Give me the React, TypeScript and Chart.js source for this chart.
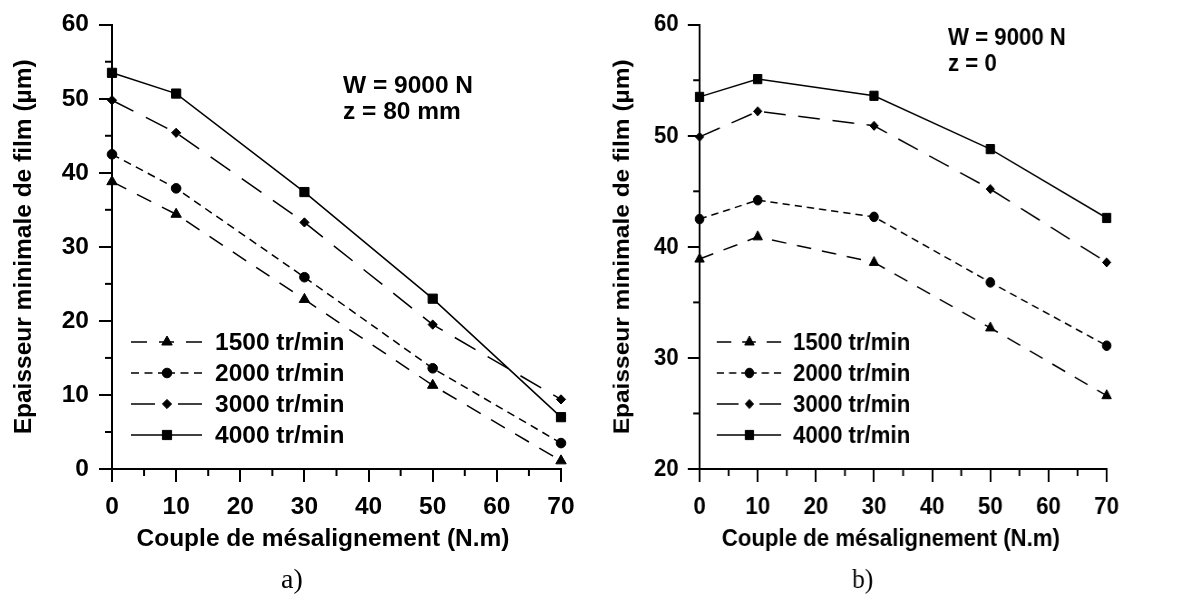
import React, { useEffect, useRef } from 'react';
import { Chart, registerables } from 'chart.js';

Chart.register(...registerables);

// ---------- data ----------
const torques = [0, 10, 30, 50, 70];
const seriesLabels = ['1500 tr/min', '2000 tr/min', '3000 tr/min', '4000 tr/min'];

// panel a) W = 9000 N, z = 80 mm
const a1500 = [38.8, 34.4, 22.9, 11.3, 1.1];
const a2000 = [42.5, 37.9, 25.9, 13.6, 3.5];
const a3000 = [49.8, 45.4, 33.3, 19.5, 9.4];
const a4000 = [53.5, 50.7, 37.4, 23.0, 7.0];

// panel b) W = 9000 N, z = 0
const b1500 = [38.9, 40.9, 38.6, 32.7, 26.6];
const b2000 = [42.5, 44.2, 42.7, 36.8, 31.1];
const b3000 = [49.9, 52.2, 50.9, 45.2, 38.6];
const b4000 = [53.5, 55.1, 53.6, 48.8, 42.6];

const xTicks = [0, 10, 20, 30, 40, 50, 60, 70];
const yTicksA = [0, 10, 20, 30, 40, 50, 60];
const yTicksB = [20, 30, 40, 50, 60];

const xTitle = 'Couple de mésalignement (N.m)';
const yTitle = 'Epaisseur minimale de film (µm)';
const notesA = ['W = 9000 N', 'z = 80 mm'];
const notesB = ['W = 9000 N', 'z = 0'];

// ---------- styles ----------
const SANS = '"Liberation Sans", Arial, Helvetica, sans-serif';
const SERIF = '"Liberation Serif", "Times New Roman", serif';
const FS = 24.5;
const DASHES: number[][] = [[16, 12], [8, 5.5], [24, 14], []];
const MARKERS = ['triangle', 'circle', 'rectRot', 'rect'];
const RADII = [6, 4.8, 4.6, 6.5];

function drawMarker(ctx: CanvasRenderingContext2D, style: string, x: number, y: number, r: number) {
  ctx.beginPath();
  if (style === 'circle') {
    ctx.arc(x, y, r, 0, Math.PI * 2);
  } else if (style === 'triangle') {
    ctx.moveTo(x, y - r);
    ctx.lineTo(x + r * Math.sin((2 * Math.PI) / 3), y - r * Math.cos((2 * Math.PI) / 3));
    ctx.lineTo(x + r * Math.sin((4 * Math.PI) / 3), y - r * Math.cos((4 * Math.PI) / 3));
    ctx.closePath();
  } else if (style === 'rectRot') {
    ctx.moveTo(x, y - r);
    ctx.lineTo(x + r, y);
    ctx.lineTo(x, y + r);
    ctx.lineTo(x - r, y);
    ctx.closePath();
  } else {
    const s = Math.SQRT1_2 * r;
    ctx.rect(x - s, y - s, 2 * s, 2 * s);
  }
  ctx.fill();
  ctx.lineWidth = 1;
  ctx.stroke();
}

const decorPlugin = {
  id: 'decor',
  afterDraw(chart: any, _args: any, opts: any) {
    const ctx: CanvasRenderingContext2D = chart.ctx;
    const { left, top, bottom } = chart.chartArea;
    const xs = chart.scales.x;
    const ys = chart.scales.y;
    ctx.save();
    ctx.strokeStyle = '#000';
    ctx.fillStyle = '#000';
    ctx.lineWidth = 2;
    ctx.setLineDash([]);
    // minor ticks
    for (let v = xs.min + 5; v < xs.max; v += 10) {
      const px = xs.getPixelForValue(v);
      ctx.beginPath();
      ctx.moveTo(px, bottom);
      ctx.lineTo(px, bottom + 7);
      ctx.stroke();
    }
    for (let v = ys.min + 5; v < ys.max; v += 10) {
      const py = ys.getPixelForValue(v);
      ctx.beginPath();
      ctx.moveTo(left, py);
      ctx.lineTo(left - 7, py);
      ctx.stroke();
    }

    // axis titles
    ctx.font = `bold ${FS}px ${SANS}`;
    ctx.textAlign = 'center';
    ctx.textBaseline = 'alphabetic';
    ctx.fillText(xTitle, opts.xTitleX, opts.xTitleY);
    ctx.save();
    ctx.translate(opts.yTitleX, (top + bottom) / 2);
    ctx.rotate(-Math.PI / 2);
    ctx.textBaseline = 'middle';
    ctx.fillText(yTitle, 0, 0);
    ctx.restore();

    // notes
    ctx.textAlign = 'left';
    ctx.textBaseline = 'alphabetic';
    opts.notes.forEach((t: string, i: number) => {
      ctx.fillText(t, opts.noteX, opts.noteY[i]);
    });

    // legend
    const lg = opts.legend;
    chart.data.datasets.forEach((ds: any, i: number) => {
      const y = lg.rows[i];
      ctx.lineWidth = 1.5;
      ctx.setLineDash(ds.borderDash || []);
      ctx.beginPath();
      ctx.moveTo(lg.x1, y);
      ctx.lineTo(lg.xm, y);
      ctx.stroke();
      ctx.beginPath();
      ctx.moveTo(lg.x2, y);
      ctx.lineTo(lg.xm, y);
      ctx.stroke();
      ctx.setLineDash([]);
      drawMarker(ctx, ds.pointStyle, lg.xm, y, ds.pointRadius);
      ctx.font = `bold ${FS}px ${SANS}`;
      ctx.textAlign = 'left';
      ctx.textBaseline = 'middle';
      ctx.fillText(ds.label, lg.tx, y + 1);
    });

    // sub label
    ctx.font = `28px ${SERIF}`;
    ctx.textAlign = 'center';
    ctx.textBaseline = 'alphabetic';
    ctx.fillText(opts.tag, opts.tagX, opts.tagY);
    ctx.restore();
  },
};

type PanelProps = {
  series: number[][];
  yMin: number;
  yMax: number;
  yTicks: number[];
  notes: string[];
  noteX: number;
  noteY: number[];
  tag: string;
  yTitleX: number;
  left: number;
  cssWidth: number;
};

function Panel(p: PanelProps) {
  const ref = useRef<HTMLCanvasElement | null>(null);
  useEffect(() => {
    if (!ref.current) return;
    const tickFont = { family: SANS, size: FS, weight: 'bold' as const };
    const chart = new Chart(ref.current, {
      type: 'line',
      data: {
        datasets: p.series.map((vals, i) => ({
          label: seriesLabels[i],
          data: torques.map((t, j) => ({ x: t, y: vals[j] })),
          borderColor: '#000',
          backgroundColor: '#000',
          borderWidth: 1.5,
          borderDash: DASHES[i],
          pointStyle: MARKERS[i] as any,
          pointRadius: RADII[i],
          pointBackgroundColor: '#000',
          pointBorderColor: '#000',
          pointBorderWidth: 1,
          tension: 0,
          clip: false as any,
        })),
      },
      options: {
        animation: false,
        responsive: false,
        devicePixelRatio: 1,
        events: [],
        layout: { padding: { left: 0, right: 39, top: 19, bottom: 0 } },
        plugins: {
          legend: { display: false },
          tooltip: { enabled: false },
          decor: {
            notes: p.notes,
            noteX: p.noteX,
            noteY: p.noteY,
            xTitleX: 323,
            xTitleY: 546,
            yTitleX: p.yTitleX,
            tag: p.tag,
            tagX: 292,
            tagY: 588,
            legend: { x1: 131, x2: 202, xm: 167, tx: 215, rows: [342, 373, 404, 435] },
          },
        } as any,
        scales: {
          x: {
            type: 'linear',
            min: 0,
            max: 70,
            afterBuildTicks: (s: any) => {
              s.ticks = xTicks.map((v) => ({ value: v }));
            },
            afterFit: (s: any) => {
              s.height = 130;
            },
            grid: { drawOnChartArea: false, drawTicks: true, tickLength: 13, color: '#000', lineWidth: 2 },
            border: { display: true, color: '#000', width: 2 },
            ticks: { color: '#000', font: tickFont, padding: 11, maxRotation: 0, autoSkip: false },
          },
          y: {
            type: 'linear',
            min: p.yMin,
            max: p.yMax,
            afterBuildTicks: (s: any) => {
              s.ticks = p.yTicks.map((v) => ({ value: v }));
            },
            afterFit: (s: any) => {
              s.width = 112;
            },
            grid: { drawOnChartArea: false, drawTicks: true, tickLength: 13, color: '#000', lineWidth: 2 },
            border: { display: true, color: '#000', width: 2 },
            ticks: { color: '#000', font: tickFont, padding: 10, autoSkip: false },
          },
        },
      },
      plugins: [decorPlugin],
    });
    return () => chart.destroy();
  }, []);
  return (
    <canvas
      ref={ref}
      width={600}
      height={599}
      style={{ position: 'absolute', left: p.left, top: 0, width: p.cssWidth, height: 599 }}
    />
  );
}

export default function App() {
  return (
    <div style={{ position: 'absolute', left: 0, top: 0, width: 1178, height: 599, background: '#fff', overflow: 'hidden' }}>
      <Panel
        series={[a1500, a2000, a3000, a4000]}
        yMin={0}
        yMax={60}
        yTicks={yTicksA}
        notes={notesA}
        noteX={343}
        noteY={[93, 119]}
        tag="a)"
        yTitleX={24}
        left={0}
        cssWidth={600}
      />
      <Panel
        series={[b1500, b2000, b3000, b4000]}
        yMin={20}
        yMax={60}
        yTicks={yTicksB}
        notes={notesB}
        noteX={386}
        noteY={[45, 71]}
        tag="b)"
        yTitleX={27}
        left={598}
        cssWidth={544}
      />
    </div>
  );
}
